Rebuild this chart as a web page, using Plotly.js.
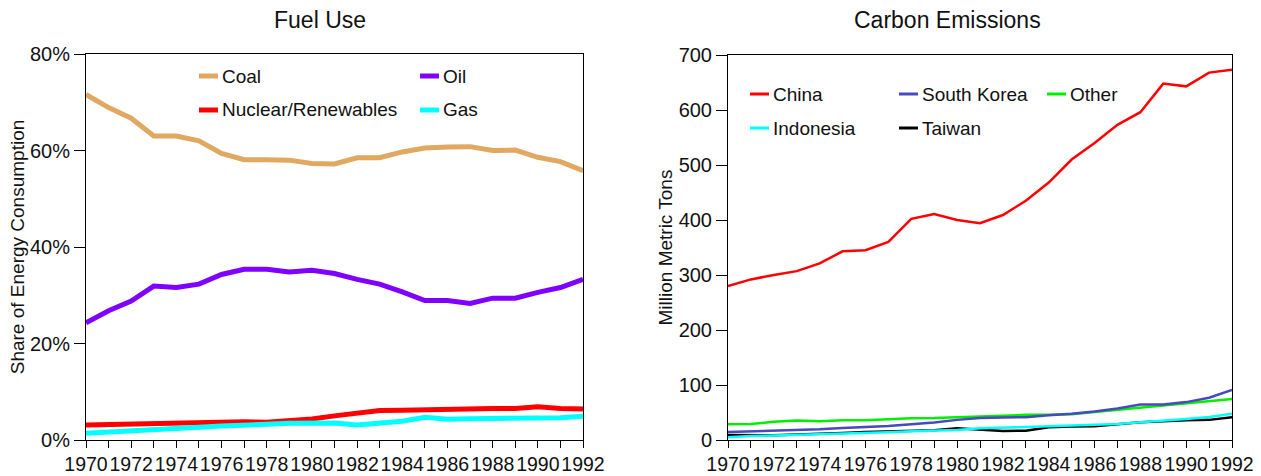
<!DOCTYPE html>
<html>
<head>
<meta charset="utf-8">
<script src="https://cdn.plot.ly/plotly-3.0.1.min.js"></script>
<style>html,body{margin:0;padding:0;background:#fff;}#chart{width:1261px;height:476px;}</style>
</head>
<body>
<div id="chart"></div>
<script>
// ---------- data ----------
var years = [1970,1971,1972,1973,1974,1975,1976,1977,1978,1979,1980,1981,1982,1983,1984,1985,1986,1987,1988,1989,1990,1991,1992];
var yearTicks = [1970,1972,1974,1976,1978,1980,1982,1984,1986,1988,1990,1992];

// Fuel Use: share of energy consumption (%)
var fuelNames = ["Coal", "Oil", "Nuclear/Renewables", "Gas"];
var coal    = [71.6,68.9,66.7,63.0,63.0,62.0,59.4,58.1,58.1,58.0,57.3,57.2,58.5,58.5,59.7,60.5,60.7,60.8,60.0,60.1,58.6,57.7,55.8];
var oil     = [24.3,26.8,28.8,31.9,31.6,32.3,34.3,35.4,35.4,34.8,35.2,34.5,33.3,32.3,30.7,28.9,28.9,28.3,29.4,29.4,30.6,31.6,33.3];
var nuclear = [3.1,3.2,3.3,3.4,3.6,3.7,3.9,3.8,3.7,4.0,4.35,5.0,5.45,6.1,6.15,6.3,6.45,6.6,6.55,6.55,6.9,6.55,6.45];
var gas     = [1.4,1.6,1.8,2.2,2.4,2.65,2.9,3.2,3.25,3.45,3.5,3.5,3.1,3.6,3.9,4.7,4.3,4.4,4.4,4.35,4.5,4.6,4.95];
var fuelTicks = [0,20,40,60,80];
var fuelTickText = ["0%","20%","40%","60%","80%"];

// Carbon Emissions (million metric tons)
var emisNames = ["China", "South Korea", "Other", "Indonesia", "Taiwan"];
var china      = [280,292,300,307,321,343,345,360,402,411,400,394,409,435,468,510,540,573,596,648,643,668,673];
var southKorea = [14.6,15.9,15.9,18.3,19.5,22,23.2,25.6,28.7,31.7,36.6,39.8,40.8,41.5,45,47.6,51.8,57.3,64.6,64.6,68.9,76.8,90.9];
var other      = [28.7,29,33,35.4,34,36,36,37.8,39.6,40,41.5,43.3,44.5,45.7,45.7,47,51,55,58.5,62.8,66.5,70,74.4];
var indonesia  = [5.2,7.3,8,9,10.4,11,12.8,14,15.9,17,18.3,21.5,23.2,23.8,25,26.2,26.8,29.3,32.3,34.8,38.4,42,47.6];
var taiwan     = [9,8.6,8.6,10.2,11,12.6,14.4,15.2,16.5,17.7,21.5,19.5,16.2,17,23.2,24.4,25,28.7,32.3,34,36,36.6,41.5];
var emisTicks = [0,100,200,300,400,500,600,700];

// ---------- styles ----------
var fuelColors = ["#E0A860", "#8000FF", "#FF0000", "#00FFFF"];
var emisColors = ["#FF0000", "#4848C0", "#00EE00", "#00FFFF", "#000000"];
var FONT = "Liberation Sans, Arial, Helvetica, sans-serif";

// layout geometry (pixels)
var W = 1261, H = 476;
var ML = 86, MR = 29, MT = 54, MB = 36;
var PW = W - ML - MR, PH = H - MT - MB;
function px(x) { return (x - ML) / PW; }
function py(y) { return (H - MB - y) / PH; }

var fuelSeries = [coal, oil, nuclear, gas];
var emisSeries = [china, southKorea, other, indonesia, taiwan];
var emisDrawOrder = [2, 4, 1, 3, 0];

var traces = [];
fuelSeries.forEach(function (s, i) {
  traces.push({x: years, y: s, name: fuelNames[i], type: "scatter", mode: "lines",
    line: {color: fuelColors[i], width: 5}, xaxis: "x", yaxis: "y", showlegend: false, hoverinfo: "skip"});
});
emisDrawOrder.forEach(function (i) {
  traces.push({x: years, y: emisSeries[i], name: emisNames[i], type: "scatter", mode: "lines",
    line: {color: emisColors[i], width: 2.5}, xaxis: "x2", yaxis: "y2", showlegend: false, hoverinfo: "skip"});
});

// manual legends
var shapes = [], annotations = [];
function legendItem(name, color, width, sx0, sx1, ty, tx) {
  shapes.push({type: "line", xref: "paper", yref: "paper", x0: px(sx0), x1: px(sx1), y0: py(ty), y1: py(ty),
    line: {color: color, width: width}});
  annotations.push({xref: "paper", yref: "paper", x: px(tx), y: py(ty), xanchor: "left", yanchor: "middle",
    text: name, showarrow: false, font: {family: FONT, size: 19, color: "#111"}});
}
var fuelLegPos = [[199, 76], [420, 76], [199, 110], [420, 110]];
fuelNames.forEach(function (n, i) {
  var p = fuelLegPos[i];
  legendItem(n, fuelColors[i], 5, p[0], p[0] + 19, p[1], p[0] + 21);
});
var emisLegPos = [[750, 94], [899, 94], [1047, 94], [750, 128], [899, 128]];
emisNames.forEach(function (n, i) {
  var p = emisLegPos[i];
  legendItem(n, emisColors[i], 3, p[0], p[0] + 19, p[1], p[0] + 21);
});

// subplot titles
annotations.push({xref: "paper", yref: "paper", x: px(320), y: py(20), xanchor: "center", yanchor: "middle",
  text: "Fuel Use", showarrow: false, font: {family: FONT, size: 23, color: "#111"}});
annotations.push({xref: "paper", yref: "paper", x: px(947), y: py(20), xanchor: "center", yanchor: "middle",
  text: "Carbon Emissions", showarrow: false, font: {family: FONT, size: 23, color: "#111"}});

function xAxis(domain, anchor) {
  return {domain: domain, anchor: anchor, range: [1970, 1992], tickvals: yearTicks, ticktext: yearTicks.map(String),
    tickangle: 0, ticks: "outside", ticklen: 7, tickcolor: "#000", showline: true, linecolor: "#000", linewidth: 1,
    mirror: true, showgrid: false, zeroline: false, automargin: false,
    minor: {tickvals: years, ticks: "outside", ticklen: 7, tickcolor: "#000", showgrid: false},
    tickfont: {family: FONT, size: 19.5, color: "#111"}};
}
function yAxis(domain, anchor, range, ticks, text, title) {
  return {domain: domain, anchor: anchor, range: range, tickvals: ticks, ticktext: text,
    ticks: "outside", ticklen: 11, tickcolor: "#000", showline: true, linecolor: "#000", linewidth: 1,
    mirror: true, showgrid: false, zeroline: false, automargin: false,
    tickfont: {family: FONT, size: 20, color: "#111"},
    title: {text: title, font: {family: FONT, size: 19, color: "#111"}, standoff: 0}};
}

var layout = {
  width: W, height: H,
  margin: {l: ML, r: MR, t: MT, b: MB, pad: 0},
  paper_bgcolor: "#fff", plot_bgcolor: "#fff",
  showlegend: false,
  xaxis: xAxis([0, px(583)], "y"),
  yaxis: yAxis([0, 1], "x", [0, 80], fuelTicks, fuelTickText, "Share of Energy Consumption"),
  xaxis2: xAxis([px(728), 1], "y2"),
  yaxis2: yAxis([0, py(55)], "x2", [0, 700], emisTicks, emisTicks.map(String), "Million Metric Tons"),
  shapes: shapes,
  annotations: annotations
};

Plotly.newPlot("chart", traces, layout, {staticPlot: true, displayModeBar: false});
</script>
</body>
</html>
